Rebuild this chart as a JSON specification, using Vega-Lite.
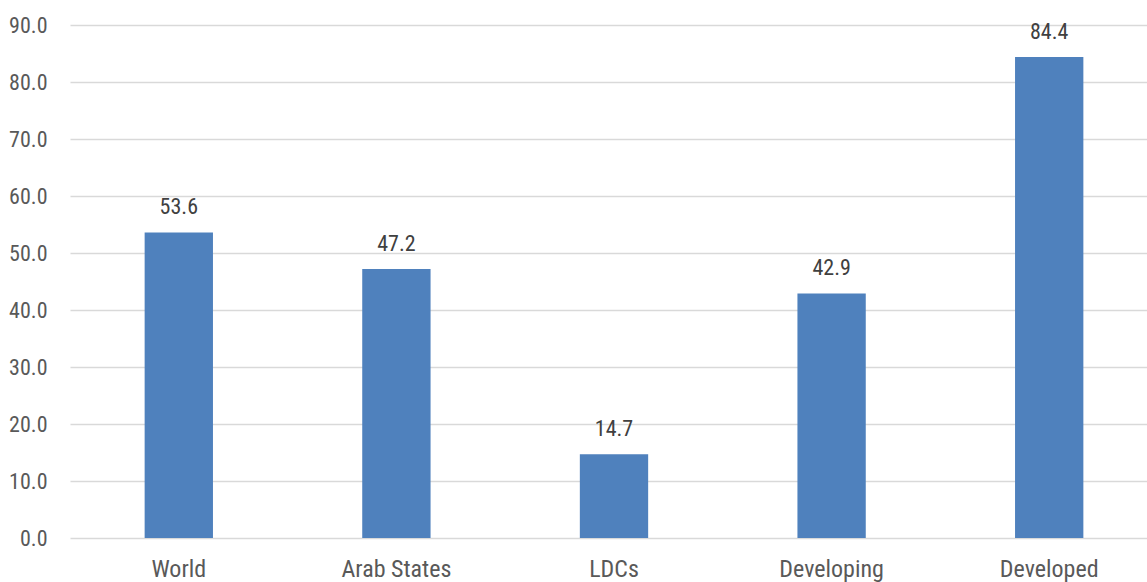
{
  "$schema": "https://vega.github.io/schema/vega-lite/v6.json",
  "autosize": {"type": "none"},
  "width": 1088,
  "height": 513,
  "padding": {"left": 70, "top": 25, "right": 0, "bottom": 44},
  "background": "white",
  "config": {
    "view": {"stroke": null},
    "font": "Liberation Sans Narrow, Roboto Condensed, DejaVu Sans Condensed, sans-serif"
  },
  "data": {
    "values": [
      {"group": "World", "value": 53.6},
      {"group": "Arab States", "value": 47.2},
      {"group": "LDCs", "value": 14.7},
      {"group": "Developing", "value": 42.9},
      {"group": "Developed", "value": 84.4}
    ]
  },
  "encoding": {
    "x": {
      "field": "group",
      "type": "nominal",
      "sort": null,
      "title": null,
      "scale": {"paddingInner": 0.686, "paddingOuter": 0.343},
      "axis": {
        "domain": false,
        "ticks": false,
        "labelAngle": 0,
        "labelPadding": 19,
        "labelFontSize": 24,
        "labelColor": "#595959",
        "labelFont": "Liberation Sans Narrow, Roboto Condensed, DejaVu Sans Condensed, sans-serif"
      }
    },
    "y": {
      "field": "value",
      "type": "quantitative",
      "title": null,
      "scale": {"domain": [0, 90], "nice": false},
      "axis": {
        "values": [0, 10, 20, 30, 40, 50, 60, 70, 80, 90],
        "format": ".1f",
        "domain": false,
        "ticks": false,
        "labelPadding": 23,
        "labelFontSize": 22,
        "labelColor": "#595959",
        "labelFont": "Liberation Sans Narrow, Roboto Condensed, DejaVu Sans Condensed, sans-serif",
        "grid": true,
        "gridColor": "#D9D9D9",
        "gridWidth": 1.5
      }
    }
  },
  "layer": [
    {"mark": {"type": "bar", "color": "#4F81BD"}},
    {
      "mark": {
        "type": "text",
        "baseline": "alphabetic",
        "dy": -18,
        "fontSize": 22,
        "color": "#404040"
      },
      "encoding": {"text": {"field": "value", "type": "quantitative", "format": ".1f"}}
    }
  ]
}
